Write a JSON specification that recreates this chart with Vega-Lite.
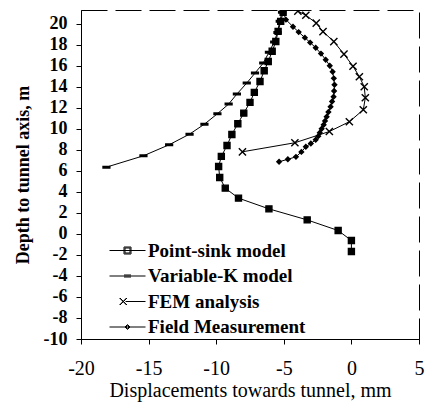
{
  "$schema": "https://vega.github.io/schema/vega-lite/v6.json",
  "autosize": {"type": "none"},
  "width": 338,
  "height": 329,
  "padding": {"left": 81, "top": 10, "right": 10, "bottom": 70},
  "background": "white",
  "config": {
    "view": {"stroke": "black", "strokeWidth": 1, "strokeDash": [26, 8]},
    "font": "Liberation Serif",
    "axis": {"grid": false, "domainColor": "black", "tickColor": "black", "labelColor": "black", "titleColor": "black", "labelFont": "Liberation Serif", "titleFont": "Liberation Serif", "labelOverlap": false, "labelFlush": false, "tickSize": 5},
    "axisX": {"labelFontSize": 20, "titleFontSize": 20, "titleFontWeight": "normal", "labelPadding": 14, "titlePadding": 2},
    "axisY": {"labelFontSize": 18, "labelFontWeight": "bold", "titleFontSize": 18, "titleFontWeight": "bold", "labelPadding": 9, "titlePadding": 11}
  },
  "datasets": {
    "curves": [
      {"series": "Point-sink model", "i": 1, "x": 0, "y": -1.68},
      {"series": "Point-sink model", "i": 2, "x": 0, "y": -0.63},
      {"series": "Point-sink model", "i": 3, "x": -0.98, "y": 0.32},
      {"series": "Point-sink model", "i": 4, "x": -3.27, "y": 1.33},
      {"series": "Point-sink model", "i": 5, "x": -6.1, "y": 2.38},
      {"series": "Point-sink model", "i": 6, "x": -8.35, "y": 3.4},
      {"series": "Point-sink model", "i": 7, "x": -9.33, "y": 4.35},
      {"series": "Point-sink model", "i": 8, "x": -9.74, "y": 5.37},
      {"series": "Point-sink model", "i": 9, "x": -9.82, "y": 6.41},
      {"series": "Point-sink model", "i": 10, "x": -9.62, "y": 7.37},
      {"series": "Point-sink model", "i": 11, "x": -9.2, "y": 8.41},
      {"series": "Point-sink model", "i": 12, "x": -8.84, "y": 9.46},
      {"series": "Point-sink model", "i": 13, "x": -8.4, "y": 10.48},
      {"series": "Point-sink model", "i": 14, "x": -7.96, "y": 11.49},
      {"series": "Point-sink model", "i": 15, "x": -7.5, "y": 12.51},
      {"series": "Point-sink model", "i": 16, "x": -7.18, "y": 13.46},
      {"series": "Point-sink model", "i": 17, "x": -6.76, "y": 14.5},
      {"series": "Point-sink model", "i": 18, "x": -6.45, "y": 15.52},
      {"series": "Point-sink model", "i": 19, "x": -6.15, "y": 16.4},
      {"series": "Point-sink model", "i": 20, "x": -5.86, "y": 17.37},
      {"series": "Point-sink model", "i": 21, "x": -5.59, "y": 18.3},
      {"series": "Point-sink model", "i": 22, "x": -5.42, "y": 19.27},
      {"series": "Point-sink model", "i": 23, "x": -5.23, "y": 20.22},
      {"series": "Point-sink model", "i": 24, "x": -5.05, "y": 21.08},
      {"series": "Variable-K model", "i": 1, "x": -18.12, "y": 6.35},
      {"series": "Variable-K model", "i": 2, "x": -15.38, "y": 7.43},
      {"series": "Variable-K model", "i": 3, "x": -13.48, "y": 8.48},
      {"series": "Variable-K model", "i": 4, "x": -11.97, "y": 9.49},
      {"series": "Variable-K model", "i": 5, "x": -10.87, "y": 10.44},
      {"series": "Variable-K model", "i": 6, "x": -9.91, "y": 11.43},
      {"series": "Variable-K model", "i": 7, "x": -9.08, "y": 12.35},
      {"series": "Variable-K model", "i": 8, "x": -8.47, "y": 13.3},
      {"series": "Variable-K model", "i": 9, "x": -7.74, "y": 14.35},
      {"series": "Variable-K model", "i": 10, "x": -7.13, "y": 15.3},
      {"series": "Variable-K model", "i": 11, "x": -6.52, "y": 16.25},
      {"series": "Variable-K model", "i": 12, "x": -6.1, "y": 17.27},
      {"series": "Variable-K model", "i": 13, "x": -5.71, "y": 18.25},
      {"series": "Variable-K model", "i": 14, "x": -5.47, "y": 19.17},
      {"series": "Variable-K model", "i": 15, "x": -5.3, "y": 20.22},
      {"series": "Variable-K model", "i": 16, "x": -5.13, "y": 21.08},
      {"series": "FEM analysis", "i": 1, "x": -8.06, "y": 7.81},
      {"series": "FEM analysis", "i": 2, "x": -4.18, "y": 8.67},
      {"series": "FEM analysis", "i": 3, "x": -1.63, "y": 9.74},
      {"series": "FEM analysis", "i": 4, "x": -0.15, "y": 10.67},
      {"series": "FEM analysis", "i": 5, "x": 0.88, "y": 11.81},
      {"series": "FEM analysis", "i": 6, "x": 1.03, "y": 12.95},
      {"series": "FEM analysis", "i": 7, "x": 0.95, "y": 14.0},
      {"series": "FEM analysis", "i": 8, "x": 0.59, "y": 14.95},
      {"series": "FEM analysis", "i": 9, "x": 0.12, "y": 15.95},
      {"series": "FEM analysis", "i": 10, "x": -0.55, "y": 17.1},
      {"series": "FEM analysis", "i": 11, "x": -1.3, "y": 18.3},
      {"series": "FEM analysis", "i": 12, "x": -2.1, "y": 19.24},
      {"series": "FEM analysis", "i": 13, "x": -2.6, "y": 20.05},
      {"series": "FEM analysis", "i": 14, "x": -3.37, "y": 20.8},
      {"series": "FEM analysis", "i": 15, "x": -3.96, "y": 21.2},
      {"series": "Field Measurement", "i": 1, "x": -5.35, "y": 6.86},
      {"series": "Field Measurement", "i": 2, "x": -4.7, "y": 7.1},
      {"series": "Field Measurement", "i": 3, "x": -4.1, "y": 7.33},
      {"series": "Field Measurement", "i": 4, "x": -3.7, "y": 7.8},
      {"series": "Field Measurement", "i": 5, "x": -3.37, "y": 8.29},
      {"series": "Field Measurement", "i": 6, "x": -3.0, "y": 8.6},
      {"series": "Field Measurement", "i": 7, "x": -2.64, "y": 8.95},
      {"series": "Field Measurement", "i": 8, "x": -2.45, "y": 9.3},
      {"series": "Field Measurement", "i": 9, "x": -2.34, "y": 9.62},
      {"series": "Field Measurement", "i": 10, "x": -2.2, "y": 10.0},
      {"series": "Field Measurement", "i": 11, "x": -2.05, "y": 10.38},
      {"series": "Field Measurement", "i": 12, "x": -1.95, "y": 10.75},
      {"series": "Field Measurement", "i": 13, "x": -1.83, "y": 11.14},
      {"series": "Field Measurement", "i": 14, "x": -1.7, "y": 11.6},
      {"series": "Field Measurement", "i": 15, "x": -1.54, "y": 12.1},
      {"series": "Field Measurement", "i": 16, "x": -1.43, "y": 12.6},
      {"series": "Field Measurement", "i": 17, "x": -1.32, "y": 13.05},
      {"series": "Field Measurement", "i": 18, "x": -1.28, "y": 13.6},
      {"series": "Field Measurement", "i": 19, "x": -1.25, "y": 14.19},
      {"series": "Field Measurement", "i": 20, "x": -1.3, "y": 14.8},
      {"series": "Field Measurement", "i": 21, "x": -1.39, "y": 15.43},
      {"series": "Field Measurement", "i": 22, "x": -1.6, "y": 16.0},
      {"series": "Field Measurement", "i": 23, "x": -1.9, "y": 16.57},
      {"series": "Field Measurement", "i": 24, "x": -2.25, "y": 17.15},
      {"series": "Field Measurement", "i": 25, "x": -2.64, "y": 17.71},
      {"series": "Field Measurement", "i": 26, "x": -3.05, "y": 18.2},
      {"series": "Field Measurement", "i": 27, "x": -3.44, "y": 18.67},
      {"series": "Field Measurement", "i": 28, "x": -3.9, "y": 19.2},
      {"series": "Field Measurement", "i": 29, "x": -4.32, "y": 19.71},
      {"series": "Field Measurement", "i": 30, "x": -4.84, "y": 20.38},
      {"series": "Field Measurement", "i": 31, "x": -5.05, "y": 21.14}
    ]
  },
  "layer": [
    {
      "data": {"name": "curves"},
      "mark": {"type": "line", "color": "black", "strokeWidth": 1, "clip": true},
      "encoding": {
        "x": {"field": "x", "type": "quantitative", "scale": {"domain": [-20, 5], "nice": false},
          "axis": {"values": [-20, -15, -10, -5, 0, 5], "tickCount": 20, "title": "Displacements towards tunnel, mm", "labelExpr": "replace(datum.label, '−', '-')"}},
        "y": {"field": "y", "type": "quantitative", "scale": {"domain": [-10, 21.3], "nice": false, "zero": false},
          "axis": {"values": [-10, -8, -6, -4, -2, 0, 2, 4, 6, 8, 10, 12, 14, 16, 18, 20], "tickCount": 40, "title": "Depth to tunnel axis, m", "labelExpr": "replace(datum.label, '−', '-')"}},
        "detail": {"field": "series"},
        "order": {"field": "i"}
      }
    },
    {
      "data": {"name": "curves"},
      "mark": {"type": "point", "filled": true, "fill": "black", "stroke": "black", "strokeWidth": 1.4, "size": 64, "opacity": 1, "clip": true},
      "encoding": {
        "x": {"field": "x", "type": "quantitative"},
        "y": {"field": "y", "type": "quantitative"},
        "shape": {"field": "series", "type": "nominal", "legend": null,
          "scale": {"domain": ["Point-sink model", "Variable-K model", "FEM analysis", "Field Measurement"],
            "range": ["M-0.75,-0.75H0.75V0.75H-0.75Z", "M-0.85,-0.2H0.85V0.2H-0.85Z", "M-0.9,-0.9L0.9,0.9M-0.9,0.9L0.9,-0.9", "M0,-0.55L0.55,0L0,0.55L-0.55,0Z"]}}
      }
    },
    {
      "data": {"name": "curves"},
      "transform": [{"filter": "false"}],
      "mark": {"type": "point", "filled": false, "color": "black", "strokeWidth": 1, "opacity": 1},
      "encoding": {
        "shape": {"field": "series", "type": "nominal",
          "scale": {"domain": ["Point-sink model", "Variable-K model", "FEM analysis", "Field Measurement"],
            "range": [
              "M-1.8,0H1.8M-0.35,-0.35H0.35V0.35H-0.35ZM-0.25,-0.25H0.25V0.25H-0.25Z",
              "M-1.8,0H1.8M-0.35,-0.1H0.35M-0.35,0.1H0.35",
              "M-0.2,0H1.8M-0.8,-0.35L-0.1,0.35M-0.8,0.35L-0.1,-0.35M-0.75,-0.35L-0.05,0.35M-0.75,0.35L-0.05,-0.35",
              "M-1.8,0H1.8M0,-0.25L0.25,0L0,0.25L-0.25,0ZM0,-0.15L0.15,0L0,0.15L-0.15,0Z"
            ]},
          "legend": {
            "title": null,
            "orient": "none",
            "legendX": 36,
            "legendY": 230,
            "symbolSize": 400,
            "labelFont": "Liberation Serif",
            "labelFontSize": 19,
            "labelFontWeight": "bold",
            "labelColor": "black",
            "labelOffset": 10,
            "rowPadding": 4.5,
            "padding": 0,
            "symbolStrokeWidth": 1,
            "symbolStrokeColor": "black",
            "symbolFillColor": "transparent"
          }
        }
      }
    }
  ],
  "resolve": {"scale": {"shape": "independent"}}
}
